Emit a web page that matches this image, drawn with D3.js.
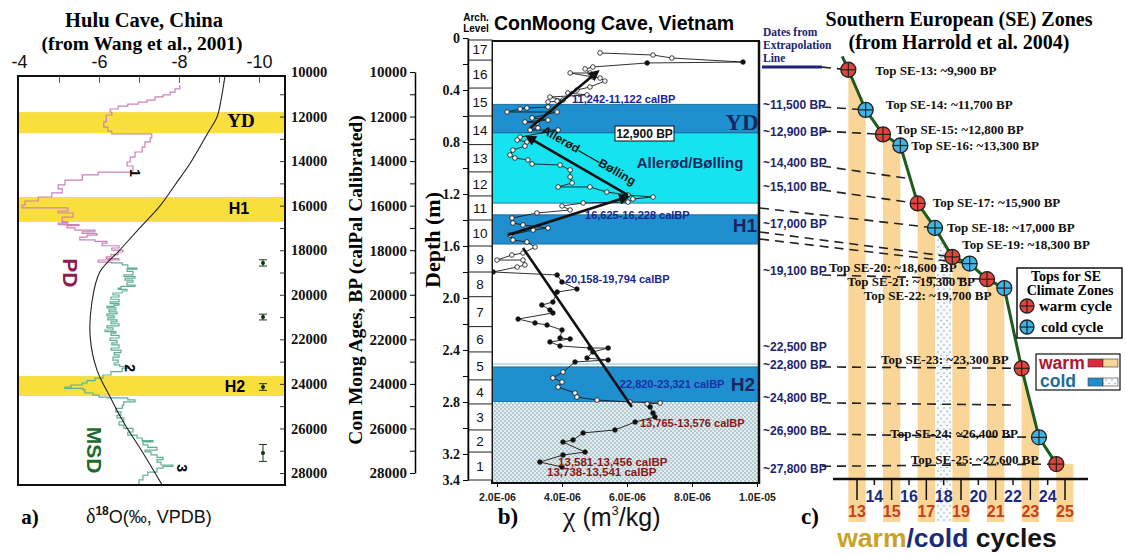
<!DOCTYPE html>
<html><head><meta charset="utf-8">
<script src="https://cdn.jsdelivr.net/npm/d3@7"></script>
<style>body{margin:0;background:#fff}svg{display:block}</style>
</head><body>
<svg id="c" width="1126" height="554"></svg>
<script>
// ===================== DATA =====================
// Panel a: Hulu Cave d18O (per mil VPDB) vs age (yr BP)
const huluTopLabels = [-4, -6, -8, -10];
const huluTopTicks = [-5, -6, -7, -8, -9, -10];
const ageLabelTicks = [10000, 12000, 14000, 16000, 18000, 20000, 22000, 24000, 26000, 28000];
const pdAge = [10580,10760,10900,11030,11120,11260,11350,11440,11530,11660,11800,11930,12240,12470,12650,12780,12960,13140,13370,13590,13820,14040,14220,14440,14490,14620,14850,15070,15250,15430,15610,15790,15970,16100,16240,16330,16510,16730,16780,16850,16900,17000,17100,17180,17250,17320,17410,17540,17600,17680,17800,17900,18000,18080,18200,18300,18380,18440,18530];
const pdVal = [-8.02,-7.9,-7.78,-7.6,-7.4,-7.2,-6.98,-6.72,-6.48,-6.28,-6.32,-6.18,-6.12,-6.22,-6.32,-7.32,-7.28,-7.15,-7.08,-6.9,-6.78,-6.7,-6.85,-6.82,-5.98,-5.58,-5.15,-4.98,-5.08,-4.82,-4.48,-4.15,-4.08,-5.22,-4.98,-5.35,-5.08,-5.22,-4.98,-5.5,-5.2,-5.4,-5.9,-5.58,-5.95,-5.7,-5.52,-5.9,-6.2,-6.08,-6.5,-6.32,-6.6,-6.48,-6.3,-6.18,-6.5,-5.98,-6.32];
const msdAge = [18530,18570,18660,18800,18850,18950,19110,19180,19250,19340,19430,19560,19620,19700,19760,19830,19920,20010,20100,20200,20320,20400,20460,20520,20590,20680,20770,20860,20950,21040,21130,21220,21300,21400,21490,21580,21650,21720,21820,21940,22050,22160,22250,22390,22480,22600,22700,22800,22930,23050,23150,23220,23290,23450,23600,23740,23850,23960,24050,24140,24200,24270,24410,24500,24590,24630,24720,24810,24950,25100,25260,25400,25530,25700,25850,26000,26160,26300,26430,26550,26600,26740,26850,26970,27050,27190,27300,27400,27510,27640,27700,27780,27960,28100,28310,28540];
const msdVal = [-6.32,-6.58,-6.72,-6.95,-6.7,-6.85,-6.62,-6.9,-6.65,-6.85,-6.7,-6.9,-6.55,-6.48,-6.7,-6.58,-6.35,-6.5,-6.3,-6.5,-6.28,-6.5,-6.38,-6.2,-6.42,-6.25,-6.45,-6.2,-6.38,-6.22,-6.45,-6.3,-6.5,-6.2,-6.35,-6.15,-6.42,-6.3,-6.5,-6.28,-6.45,-6.32,-6.5,-6.3,-6.55,-6.38,-6.5,-6.35,-6.48,-6.38,-6.52,-6.75,-6.58,-6.3,-6.1,-5.9,-5.7,-5.58,-5.3,-5.15,-5.6,-5.65,-5.85,-6.0,-6.22,-6.72,-6.9,-6.62,-6.58,-6.42,-6.55,-6.45,-6.62,-6.5,-6.62,-6.85,-6.72,-6.95,-7.08,-7.35,-7.1,-7.22,-7.45,-7.15,-7.3,-7.45,-7.6,-7.45,-7.55,-7.85,-7.6,-7.45,-7.22,-7.1,-7.0,-7.22];
const insolAge = [10180,11260,12020,12740,14040,15070,16020,17000,17990,18980,20370,21900,23380,24590,25620,27100,28540];
const insolVal = [-9.15,-9.05,-8.95,-8.72,-8.3,-7.9,-7.52,-7.02,-6.52,-6.02,-5.82,-5.78,-5.95,-6.28,-6.58,-7.1,-7.58];
const huluBandName = ["YD", "H1", "H2"];
const huluBandTop = [11800, 15610, 23650];
const huluBandBottom = [12750, 16730, 24540];
const errAge = [18570, 21000, 24140, 27100];
const errHalf = [140, 130, 150, 380];
const errVal = -10.1;

// Panel b: ConMoong Cave magnetic susceptibility (x1e-6 m3/kg) vs depth (m)
const archLevel = [17,16,15,14,13,12,11,10,9,8,7,6,5,4,3,2,1];
const archBounds = [0,0.17,0.385,0.6,0.82,1.03,1.215,1.4,1.6,1.8,1.99,2.22,2.415,2.63,2.815,3.015,3.185,3.4];
const depthTicks = [0,0.4,0.8,1.2,1.6,2.0,2.4,2.8,3.2,3.4];
const chiTicks = [2,4,6,8,10];
const chiTickLabels = ["2.0E-06","4.0E-06","6.0E-06","8.0E-06","1.0E-05"];
const chiDepth = [0.115,0.131,0.154,0.185,0.192,0.223,0.238,0.269,0.269,0.300,0.308,0.331,0.377,0.400,0.423,0.438,0.454,0.477,0.485,0.492,0.531,0.538,0.546,0.569,0.569,0.615,0.631,0.646,0.654,0.692,0.708,0.708,0.762,0.785,0.800,0.831,0.862,0.900,0.923,0.938,0.969,0.977,1.015,1.069,1.115,1.146,1.146,1.185,1.208,1.223,1.238,1.262,1.269,1.292,1.323,1.346,1.385,1.423,1.438,1.462,1.477,1.515,1.554,1.569,1.608,1.654,1.669,1.708,1.708,1.746,1.762,1.800,1.823,1.877,1.931,1.954,2.031,2.054,2.092,2.115,2.162,2.192,2.208,2.246,2.308,2.315,2.338,2.369,2.385,2.385,2.415,2.462,2.477,2.492,2.569,2.615,2.646,2.685,2.731,2.762,2.785,2.800,2.808,2.815,2.838,2.885,2.915,2.954,3.015,3.038,3.092,3.108,3.185,3.208,3.262,3.300];
const chiVal = [5.17,6.80,7.38,9.57,6.62,4.95,4.71,4.86,4.25,4.95,5.17,5.32,4.86,4.46,4.18,4.77,3.63,4.03,3.85,3.57,3.57,2.92,2.71,2.31,3.85,3.08,3.57,2.86,3.23,3.26,3.02,3.88,2.71,2.62,2.92,2.86,2.49,2.40,2.55,2.95,3.08,3.94,4.25,4.25,4.31,3.88,4.86,5.38,6.03,6.80,6.18,6.03,4.65,4.00,4.25,3.23,2.46,2.49,2.80,3.57,3.11,2.40,2.49,2.92,3.17,2.80,2.46,2.00,2.80,2.86,2.62,1.88,3.85,4.00,4.46,3.85,3.72,3.38,3.63,3.72,2.65,3.17,3.54,4.00,3.94,4.25,3.63,3.94,4.86,5.42,4.95,4.77,5.42,4.40,4.03,3.72,4.00,3.88,4.40,4.46,5.08,6.09,7.02,6.62,6.71,6.80,6.86,6.25,5.63,4.65,4.34,4.03,4.71,4.03,3.32,4.00];
const bBandName = ["YD", "Allerød/Bølling", "H1", "H2", "stipple"];
const bBandTop = [0.51, 0.73, 1.36, 2.53, 2.80];
const bBandBottom = [0.73, 1.27, 1.585, 2.80, 3.42];
// arrows: [chi, depth] of tail and head
const arrowTail = [[3.02,0.692],[6.03,1.208],[2.34,1.515],[2.80,1.615]];
const arrowHead = [[5.08,0.262],[2.95,0.762],[6.00,1.223],[6.15,2.838]];
const bDateText = ["11,242-11,122 calBP","16,625-16,228 calBP","20,158-19,794 calBP","22,820-23,321 calBP","13,765-13,576 calBP","13,581-13,456 calBP","13,738-13,541 calBP"];

// Panel c: Southern European zones
const seZone = [13,14,15,16,17,18,19,20,21,22,23,24,25];
const seTopAge = [9900,11700,12800,13300,15900,17000,18300,18600,19300,19700,23300,26400,27600];
const cycleNums = [13,14,15,16,17,18,19,20,21,22,23,24,25];
const extrapDates = ["~11,500 BP","~12,900 BP","~14,400 BP","~15,100 BP","~17,000 BP","~19,100 BP","~22,500 BP","~22,800 BP","~24,800 BP","~26,900 BP","~27,800 BP"];

// ===================== LAYOUT =====================
const SERIF = "'Liberation Serif','Times New Roman',serif";
const SANS = "'Liberation Sans',Arial,sans-serif";
const svg = d3.select("#c");
const defs = svg.append("defs");
const ageY = d3.scaleLinear().domain([10000, 28000]).range([72, 473]);

const p1 = defs.append("pattern").attr("id","stipB").attr("width",4).attr("height",4).attr("patternUnits","userSpaceOnUse");
p1.append("rect").attr("width",4).attr("height",4).attr("fill","#e3ecee");
p1.append("circle").attr("cx",1).attr("cy",1).attr("r",0.65).attr("fill","#5d8a9c");
p1.append("circle").attr("cx",3).attr("cy",3).attr("r",0.65).attr("fill","#5d8a9c");
const p2 = defs.append("pattern").attr("id","stipC").attr("width",6).attr("height",7).attr("patternUnits","userSpaceOnUse");
p2.append("rect").attr("width",6).attr("height",7).attr("fill","#f7fafc");
p2.append("circle").attr("cx",2).attr("cy",2).attr("r",0.8).attr("fill","#8fa6b8");
p2.append("circle").attr("cx",5).attr("cy",5.5).attr("r",0.8).attr("fill","#8fa6b8");
defs.append("marker").attr("id","arr").attr("viewBox","0 0 10 10").attr("refX",7).attr("refY",5)
  .attr("markerWidth",4.6).attr("markerHeight",4.2).attr("orient","auto")
  .append("path").attr("d","M0,0L10,5L0,10z").attr("fill","#111");

// ===================== PANEL A =====================
const aX = d3.scaleLinear().domain([-4, -10]).range([19, 259]);
const boxA = {x0: 18, x1: 285, y0: 76, y1: 485};
const gA = svg.append("g");
defs.append("clipPath").attr("id","clipA").append("rect")
  .attr("x",boxA.x0).attr("y",boxA.y0).attr("width",boxA.x1-boxA.x0).attr("height",boxA.y1-boxA.y0);

gA.selectAll("rect.band").data(huluBandName).join("rect").attr("class","band")
  .attr("x", boxA.x0 + 1).attr("width", boxA.x1 - boxA.x0 - 2)
  .attr("y", (d,i) => ageY(huluBandTop[i])).attr("height", (d,i) => ageY(huluBandBottom[i]) - ageY(huluBandTop[i]))
  .attr("fill", "#f8df3c");

const gAc = gA.append("g").attr("clip-path","url(#clipA)");
const insol = insolAge.map((a,i)=>({a, v: insolVal[i]}));
gAc.append("path").datum(insol)
  .attr("d", d3.line().x(d=>aX(d.v)).y(d=>ageY(d.a)).curve(d3.curveCatmullRom))
  .attr("fill","none").attr("stroke","#222").attr("stroke-width",1.1);
const stepLine = d3.line().x(d=>aX(d.v)).y(d=>ageY(d.a)).curve(d3.curveStepBefore);
gAc.append("path").datum(pdAge.map((a,i)=>({a, v: pdVal[i]})))
  .attr("d", stepLine).attr("fill","none").attr("stroke","#c983b6").attr("stroke-width",1.2)
  .style("mix-blend-mode","multiply");
gAc.append("path").datum(msdAge.map((a,i)=>({a, v: msdVal[i]})))
  .attr("d", stepLine).attr("fill","none").attr("stroke","#5fae93").attr("stroke-width",1.2)
  .style("mix-blend-mode","multiply");

errAge.forEach((a,i)=>{
  const x = aX(errVal);
  const g = gA.append("g").attr("stroke","#1d3b1d").attr("stroke-width",1);
  g.append("line").attr("x1",x).attr("x2",x).attr("y1",ageY(a-errHalf[i])).attr("y2",ageY(a+errHalf[i]));
  g.append("line").attr("x1",x-4).attr("x2",x+4).attr("y1",ageY(a-errHalf[i])).attr("y2",ageY(a-errHalf[i]));
  g.append("line").attr("x1",x-4).attr("x2",x+4).attr("y1",ageY(a+errHalf[i])).attr("y2",ageY(a+errHalf[i]));
  gA.append("circle").attr("cx",x).attr("cy",ageY(a)).attr("r",2).attr("fill","#143014");
});

gA.append("rect").attr("x",boxA.x0).attr("y",boxA.y0).attr("width",boxA.x1-boxA.x0).attr("height",boxA.y1-boxA.y0)
  .attr("fill","none").attr("stroke","#111").attr("stroke-width",2);
gA.append("g").attr("transform",`translate(0,${boxA.y0})`)
  .call(d3.axisBottom(aX).tickValues(huluTopTicks).tickSize(7).tickFormat("").tickSizeOuter(0))
  .call(g=>{g.select(".domain").remove(); g.selectAll("line").attr("stroke","#555");});
gA.append("g").attr("transform",`translate(0,68)`)
  .call(d3.axisTop(aX).tickValues(huluTopLabels).tickSize(0).tickPadding(0).tickFormat(d=>String(d)))
  .call(g=>{g.select(".domain").remove(); g.selectAll("text").attr("font-family",SANS).attr("font-size",18).attr("fill","#111");});
gA.append("g").attr("transform",`translate(${boxA.x1},0)`)
  .call(d3.axisLeft(ageY).tickValues(d3.range(11000,28001,1000)).tickSize(5).tickFormat("").tickSizeOuter(0))
  .call(g=>{g.select(".domain").remove(); g.selectAll("line").attr("stroke","#333");});
gA.append("g").attr("transform",`translate(${boxA.x1},0)`)
  .call(d3.axisRight(ageY).tickValues(ageLabelTicks).tickSize(0).tickPadding(6).tickFormat(d3.format("d")))
  .call(g=>{g.select(".domain").remove(); g.selectAll("text").attr("font-family",SERIF).attr("font-weight","bold").attr("font-size",14.5).attr("fill","#111");});

gA.append("text").attr("x",aX(-9.55)).attr("y",ageY(12450)).attr("text-anchor","middle")
  .attr("font-family",SERIF).attr("font-weight","bold").attr("font-size",19).text("YD");
gA.append("text").attr("x",aX(-9.5)).attr("y",ageY(16390)).attr("text-anchor","middle")
  .attr("font-family",SANS).attr("font-weight","bold").attr("font-size",16).text("H1");
gA.append("text").attr("x",aX(-9.4)).attr("y",ageY(24350)).attr("text-anchor","middle")
  .attr("font-family",SANS).attr("font-weight","bold").attr("font-size",16).text("H2");
[["1",-6.9,14530],["2",-6.78,23290],["3",-8.08,27780]].forEach(([t,v,a])=>{
  gA.append("text").attr("transform",`translate(${aX(v)},${ageY(a)}) rotate(90)`).attr("text-anchor","middle")
    .attr("dominant-baseline","central").attr("font-family",SANS).attr("font-weight","bold").attr("font-size",14).text(t);
});
gA.append("text").attr("transform",`translate(${aX(-5.28)},${ageY(19020)}) rotate(90)`).attr("text-anchor","middle")
  .attr("dominant-baseline","central").attr("font-family",SANS).attr("font-weight","bold").attr("font-size",21)
  .attr("fill","#8e1a50").text("PD");
gA.append("text").attr("transform",`translate(${aX(-5.88)},${ageY(26970)}) rotate(90)`).attr("text-anchor","middle")
  .attr("dominant-baseline","central").attr("font-family",SANS).attr("font-weight","bold").attr("font-size",21)
  .attr("fill","#1e6b2a").text("MSD");
gA.append("text").attr("x",144).attr("y",27).attr("text-anchor","middle").attr("font-family",SERIF)
  .attr("font-weight","bold").attr("font-size",20.5).text("Hulu Cave, China");
gA.append("text").attr("x",142).attr("y",50).attr("text-anchor","middle").attr("font-family",SERIF)
  .attr("font-weight","bold").attr("font-size",19.5).text("(from Wang et al., 2001)");
gA.append("text").attr("x",30).attr("y",524).attr("text-anchor","middle").attr("font-family",SERIF)
  .attr("font-weight","bold").attr("font-size",21).text("a)");
const dl = gA.append("text").attr("x",86).attr("y",523).attr("font-family",SANS).attr("font-size",18).attr("fill","#111");
dl.append("tspan").attr("font-family",SERIF).attr("font-size",20).text("δ");
dl.append("tspan").attr("font-size",12).attr("font-weight","bold").attr("dy",-8).text("18");
dl.append("tspan").attr("dy",8).text("O(‰, VPDB)");

// ===================== PANEL B =====================
const depthY = d3.scaleLinear().domain([0, 3.4]).range([38, 480]);
const chiX = d3.scaleLinear().domain([2, 10]).range([497, 757]);
const boxB = {x0: 492, x1: 759, y0: 41, y1: 483};
const gB = svg.append("g");
defs.append("clipPath").attr("id","clipB").append("rect")
  .attr("x",boxB.x0).attr("y",boxB.y0).attr("width",boxB.x1-boxB.x0).attr("height",boxB.y1-boxB.y0);
const bandFill = ["#1f8fcf","#16e3f0","#1f8fcf","#1f8fcf","url(#stipB)"];
gB.selectAll("rect.bband").data(bBandName).join("rect").attr("class","bband")
  .attr("x",boxB.x0).attr("width",boxB.x1-boxB.x0)
  .attr("y",(d,i)=>depthY(bBandTop[i])).attr("height",(d,i)=>depthY(bBandBottom[i])-depthY(bBandTop[i]))
  .attr("fill",(d,i)=>bandFill[i]).attr("stroke",(d,i)=> i<4 ? "#155f8c" : "none").attr("stroke-width",0.8);
gB.append("line").attr("x1",boxB.x0).attr("x2",boxB.x1).attr("y1",depthY(2.508)).attr("y2",depthY(2.508))
  .attr("stroke","#7fc1de").attr("stroke-width",1);

const gBc = gB.append("g").attr("clip-path","url(#clipB)");
const chiPts = chiDepth.map((d,i)=>({d, c: chiVal[i]}));
gBc.append("path").datum(chiPts).attr("d", d3.line().x(p=>chiX(p.c)).y(p=>depthY(p.d)))
  .attr("fill","none").attr("stroke","#1a1a1a").attr("stroke-width",0.9);
gBc.selectAll("circle.pt").data(chiPts).join("circle").attr("class","pt")
  .attr("cx",p=>chiX(p.c)).attr("cy",p=>depthY(p.d)).attr("r",2.3)
  .attr("fill",p=> ((p.d>=1.8 && p.d<=2.5) || p.d>2.82 || (p.d>0.18&&p.d<0.2)) ? "#111" : "#fff")
  .attr("stroke","#111").attr("stroke-width",0.8);

arrowTail.forEach((t,i)=>{
  gB.append("line").attr("x1",chiX(t[0])).attr("y1",depthY(t[1])).attr("x2",chiX(arrowHead[i][0])).attr("y2",depthY(arrowHead[i][1]))
    .attr("stroke","#111").attr("stroke-width",2.6).attr("marker-end", i<3 ? "url(#arr)" : null);
});
{
  const x1=chiX(arrowTail[1][0]), y1=depthY(arrowTail[1][1]), x2=chiX(arrowHead[1][0]), y2=depthY(arrowHead[1][1]);
  const ang = Math.atan2(y1-y2, x1-x2)*180/Math.PI;
  const mx=(x1+x2)/2+9, my=(y1+y2)/2-7;
  gB.append("text").attr("transform",`translate(${mx},${my}) rotate(${ang})`).attr("text-anchor","middle")
    .attr("font-family",SANS).attr("font-weight","bold").attr("font-size",12).attr("fill","#111").text("Allerød——Bølling");
}

gB.append("text").attr("x",742).attr("y",130).attr("text-anchor","middle").attr("font-family",SERIF)
  .attr("font-weight","bold").attr("font-size",23).attr("fill","#1b2560").text("YD");
gB.append("text").attr("x",745).attr("y",232).attr("text-anchor","middle").attr("font-family",SANS)
  .attr("font-weight","bold").attr("font-size",19).attr("fill","#1b2560").text("H1");
gB.append("text").attr("x",743).attr("y",391).attr("text-anchor","middle").attr("font-family",SANS)
  .attr("font-weight","bold").attr("font-size",19).attr("fill","#1b2560").text("H2");
gB.append("text").attr("x",690).attr("y",168).attr("text-anchor","middle").attr("font-family",SANS)
  .attr("font-weight","bold").attr("font-size",15).attr("fill","#1b2560").text("Allerød/Bølling");
gB.append("rect").attr("x",615).attr("y",126).attr("width",59).attr("height",15).attr("fill","#fff").attr("stroke","#111").attr("stroke-width",1);
gB.append("text").attr("x",644.5).attr("y",138).attr("text-anchor","middle").attr("font-family",SANS)
  .attr("font-weight","bold").attr("font-size",12).attr("fill","#111").text("12,900 BP");
const bDatePos = [[4.31,0.5],[4.71,1.392],[4.09,1.885],[5.78,2.692],[6.4,2.992],[3.88,3.292],[3.54,3.369]];
const bDateCol = ["#1c2590","#1c2590","#1c2590","#1a2fa5","#8e1717","#8e1717","#8e1717"];
bDateText.forEach((t,i)=>{
  gB.append("text").attr("x",chiX(bDatePos[i][0])).attr("y",depthY(bDatePos[i][1])).attr("font-family",SANS)
    .attr("font-weight","bold").attr("font-size",i>4?11.5:11).attr("fill",bDateCol[i]).text(t);
});

gB.append("rect").attr("x",boxB.x0).attr("y",boxB.y0).attr("width",boxB.x1-boxB.x0).attr("height",boxB.y1-boxB.y0)
  .attr("fill","none").attr("stroke","#111").attr("stroke-width",2);
gB.append("g").attr("transform",`translate(0,${boxB.y1})`)
  .call(d3.axisBottom(chiX).tickValues(chiTicks).tickSize(4).tickPadding(7).tickFormat((d,i)=>chiTickLabels[i]))
  .call(g=>{g.select(".domain").remove(); g.selectAll("text").attr("font-family",SANS).attr("font-weight","bold").attr("font-size",10.5).attr("fill","#222");});
const gArch = gB.append("g");
gArch.append("rect").attr("x",468).attr("y",depthY(0)+2).attr("width",24).attr("height",depthY(3.4)-depthY(0)-2)
  .attr("fill","#fff").attr("stroke","#222").attr("stroke-width",1);
gArch.selectAll("line.ab").data(archBounds.slice(1,-1)).join("line").attr("class","ab")
  .attr("x1",468).attr("x2",492).attr("y1",d=>depthY(d)).attr("y2",d=>depthY(d)).attr("stroke","#222").attr("stroke-width",1);
gArch.selectAll("text.al").data(archLevel).join("text").attr("class","al")
  .attr("x",480).attr("y",(d,i)=>(depthY(archBounds[i])+depthY(archBounds[i+1]))/2+5)
  .attr("text-anchor","middle").attr("font-family",SANS).attr("font-size",13.5).attr("fill","#111").text(d=>d);
gB.append("text").attr("x",476).attr("y",21).attr("text-anchor","middle").attr("font-family",SANS).attr("font-weight","bold").attr("font-size",10).text("Arch.");
gB.append("text").attr("x",476).attr("y",32).attr("text-anchor","middle").attr("font-family",SANS).attr("font-weight","bold").attr("font-size",10).text("Level");
gB.append("g").attr("transform","translate(468,0)")
  .call(d3.axisLeft(depthY).tickValues(d3.range(0,3.41,0.2)).tickSize(5).tickSizeOuter(0).tickPadding(3)
    .tickFormat(d=> depthTicks.some(t=>Math.abs(t-d)<1e-6) ? (d===0?"0":d3.format(".1f")(d)) : ""))
  .call(g=>{g.select(".domain").attr("stroke-width",1.5); g.selectAll("text").attr("font-family",SERIF).attr("font-weight","bold").attr("font-size",14).attr("fill","#111");});
gB.append("g").attr("transform","translate(415,0)")
  .call(d3.axisLeft(ageY).tickValues(d3.range(10000,28001,1000)).tickSize(5).tickSizeOuter(0).tickPadding(3)
    .tickFormat(d=> d%2000===0 ? d3.format("d")(d) : ""))
  .call(g=>{g.select(".domain").attr("stroke-width",1.5); g.selectAll("text").attr("font-family",SERIF).attr("font-weight","bold").attr("font-size",15).attr("fill","#111");});
gB.append("text").attr("transform","translate(362,280) rotate(-90)").attr("text-anchor","middle").attr("font-family",SERIF)
  .attr("font-weight","bold").attr("font-size",19.5).text("Con Mong Ages, BP (calPal Calibrated)");
gB.append("text").attr("transform","translate(440,240) rotate(-90)").attr("text-anchor","middle").attr("font-family",SERIF)
  .attr("font-weight","bold").attr("font-size",22).text("Depth (m)");
gB.append("text").attr("x",614).attr("y",30).attr("text-anchor","middle").attr("font-family",SANS)
  .attr("font-weight","bold").attr("font-size",19.5).text("ConMoong Cave, Vietnam");
gB.append("text").attr("x",508).attr("y",524).attr("text-anchor","middle").attr("font-family",SERIF)
  .attr("font-weight","bold").attr("font-size",23).text("b)");
const cl = gB.append("text").attr("x",563).attr("y",526).attr("font-family",SANS).attr("font-size",25).attr("fill","#111");
cl.append("tspan").attr("font-family",SERIF).attr("font-size",28).text("χ");
cl.append("tspan").text(" (m");
cl.append("tspan").attr("font-size",13).attr("dy",-11).text("3");
cl.append("tspan").attr("dy",11).text("/kg)");

// ===================== PANEL C =====================
const cX = d3.scaleLinear().domain([13, 25]).range([857, 1065]);
const gC = svg.append("g");
const barBottom = 522;
const lineStart = [12.15, 9300];
const circlePts = seZone.map((z,i)=>({z, c: z-0.5, a: seTopAge[i], warm: z%2===1}));
const linePts = [lineStart, ...circlePts.map(p=>[p.c, p.a])];
const underPoly = [...linePts.map(p=>[cX(p[0]), ageY(p[1])]),
  [cX(25.5), ageY(seTopAge[seTopAge.length-1])], [cX(25.5), barBottom], [cX(12), barBottom]];
defs.append("clipPath").attr("id","under").append("path").attr("d","M"+underPoly.map(p=>p.join(",")).join("L")+"Z");
const gBars = gC.append("g").attr("clip-path","url(#under)");
gBars.selectAll("rect.warm").data(cycleNums.filter(n=>n%2===1)).join("rect").attr("class","warm")
  .attr("x",n=>cX(n-0.5)).attr("width",n=>cX(n+0.5)-cX(n-0.5)).attr("y",40).attr("height",barBottom-40)
  .attr("fill","#f9d698");
gBars.append("rect").attr("x",cX(17.55)).attr("width",cX(18.45)-cX(17.55)).attr("y",40).attr("height",barBottom-40)
  .attr("fill","url(#stipC)");

const extrapLabelAge = [11480,12650,14040,15120,16820,18930,22300,23150,24630,26070,27820];
gC.selectAll("text.ex").data(extrapDates).join("text").attr("class","ex")
  .attr("x",763).attr("y",(d,i)=>ageY(extrapLabelAge[i])+4.5).attr("font-family",SANS).attr("font-weight","bold")
  .attr("font-size",12).attr("fill","#1d2470").text(d=>d);
["Dates from","Extrapolation","Line"].forEach((t,i)=>{
  gC.append("text").attr("x",763).attr("y",36+i*13).attr("font-family",SERIF).attr("font-weight","bold")
    .attr("font-size",11.5).attr("fill","#1d2470").text(t);
});
gC.append("line").attr("x1",762).attr("x2",822).attr("y1",ageY(9780)).attr("y2",ageY(9780)).attr("stroke","#1d2470").attr("stroke-width",3);

// dashed connectors: [startX, startAge, targetCycle, targetAge]
const connectors = [
  [822, 9780, 12.5, 9900], [822, 11570, 13.5, 11700], [822, 12650, 14.5, 12800], [822, 14220, 15.78, 14760],
  [822, 15300, 16.5, 15900], [760, 16105, 17.5, 17000], [760, 17182, 18.5, 18300], [760, 17500, 19.5, 18600],
  [822, 19110, 20.5, 19300], [822, 23240, 22.5, 23300], [822, 24850, 22.1, 24950], [822, 26250, 23.5, 26400],
  [822, 27700, 24.5, 27600]
];
gC.selectAll("line.cn").data(connectors).join("line").attr("class","cn")
  .attr("x1",d=>d[0]).attr("y1",d=>ageY(d[1])).attr("x2",d=>cX(d[2])).attr("y2",d=>ageY(d[3]))
  .attr("stroke","#222").attr("stroke-width",1.6).attr("stroke-dasharray","9,6");

const seLabelDx = [27,20,13,11,15,12,10,-13,-12,-13,-13,-21,-18];
const seLabelDy = [5,-1,0,4,4,4,-8,8,7,12,-4,1,0];
circlePts.forEach((p,i)=>{
  const right = seLabelDx[i] > 0;
  gC.append("text").attr("x",cX(p.c)+seLabelDx[i]).attr("y",ageY(p.a)+seLabelDy[i])
    .attr("text-anchor", right ? "start" : "end").attr("font-family",SERIF).attr("font-weight","bold")
    .attr("font-size",13).attr("fill","#111").text(`Top SE-${p.z}: ~${d3.format(",")(p.a)} BP`);
});

gC.append("path").datum(linePts).attr("d", d3.line().x(p=>cX(p[0])).y(p=>ageY(p[1])))
  .attr("fill","none").attr("stroke","#1d5c1d").attr("stroke-width",3);
function crossCircle(g, x, y, warm, r=7.5){
  g.append("circle").attr("cx",x).attr("cy",y).attr("r",r).attr("fill",warm?"#e2453a":"#3fb5e6").attr("stroke","#222").attr("stroke-width",1.3);
  g.append("line").attr("x1",x-r).attr("x2",x+r).attr("y1",y).attr("y2",y).attr("stroke","#222").attr("stroke-width",1.2);
  g.append("line").attr("x1",x).attr("x2",x).attr("y1",y-r).attr("y2",y+r).attr("stroke","#222").attr("stroke-width",1.2);
}
circlePts.forEach(p=>crossCircle(gC, cX(p.c), ageY(p.a), p.warm));

gC.append("line").attr("x1",833).attr("x2",1088).attr("y1",479).attr("y2",479).attr("stroke","#111").attr("stroke-width",2.5);
gC.selectAll("line.tk").data(cycleNums).join("line").attr("class","tk")
  .attr("x1",n=>cX(n)).attr("x2",n=>cX(n)).attr("y1",479).attr("y2",n=>n%2===1?500:485)
  .attr("stroke","#111").attr("stroke-width",1.5);
gC.selectAll("text.cy").data(cycleNums).join("text").attr("class","cy")
  .attr("x",n=>cX(n)).attr("y",n=>n%2===1?517:502).attr("text-anchor","middle").attr("font-family",SANS)
  .attr("font-weight","bold").attr("font-size",16).attr("fill",n=>n%2===1?"#c8401a":"#1c2a7a").text(n=>n);

const lg1 = gC.append("g");
lg1.append("rect").attr("x",1017).attr("y",268).attr("width",105).attr("height",70).attr("fill","#fff").attr("stroke","#111").attr("stroke-width",1.5);
lg1.append("text").attr("x",1066).attr("y",281).attr("text-anchor","middle").attr("font-family",SERIF).attr("font-weight","bold").attr("font-size",14).text("Tops for SE");
lg1.append("text").attr("x",1070).attr("y",295).attr("text-anchor","middle").attr("font-family",SERIF).attr("font-weight","bold").attr("font-size",14).text("Climate Zones");
crossCircle(lg1, 1027, 306, true, 7);
crossCircle(lg1, 1027, 327, false, 7);
lg1.append("text").attr("x",1039).attr("y",311).attr("font-family",SERIF).attr("font-weight","bold").attr("font-size",15).text("warm cycle");
lg1.append("text").attr("x",1041).attr("y",332).attr("font-family",SERIF).attr("font-weight","bold").attr("font-size",15).text("cold cycle");
const lg2 = gC.append("g");
lg2.append("rect").attr("x",1036).attr("y",354).attr("width",84).attr("height",36).attr("fill","#fff").attr("stroke","#111").attr("stroke-width",1.2);
lg2.append("text").attr("x",1039).attr("y",369).attr("font-family",SANS).attr("font-weight","bold").attr("font-size",17.5).attr("fill","#b3122e").text("warm");
lg2.append("text").attr("x",1040).attr("y",387).attr("font-family",SANS).attr("font-weight","bold").attr("font-size",17.5).attr("fill","#1a6e9c").text("cold");
lg2.append("rect").attr("x",1088).attr("y",359).attr("width",15).attr("height",8).attr("fill","#e0283c").attr("stroke","#333").attr("stroke-width",0.6);
lg2.append("rect").attr("x",1103).attr("y",359).attr("width",15).attr("height",8).attr("fill","#f9d698").attr("stroke","#333").attr("stroke-width",0.6);
lg2.append("rect").attr("x",1088).attr("y",378).attr("width",15).attr("height",8).attr("fill","#1f8fcf").attr("stroke","#333").attr("stroke-width",0.6);
lg2.append("rect").attr("x",1103).attr("y",378).attr("width",15).attr("height",8).attr("fill","url(#stipC)").attr("stroke","#333").attr("stroke-width",0.6);

gC.append("text").attr("x",959).attr("y",26).attr("text-anchor","middle").attr("font-family",SERIF).attr("font-weight","bold").attr("font-size",20).text("Southern European (SE) Zones");
gC.append("text").attr("x",959).attr("y",49).attr("text-anchor","middle").attr("font-family",SERIF).attr("font-weight","bold").attr("font-size",20).text("(from Harrold et al. 2004)");
gC.append("text").attr("x",810).attr("y",524).attr("text-anchor","middle").attr("font-family",SERIF).attr("font-weight","bold").attr("font-size",23).text("c)");
const wc = gC.append("text").attr("x",947).attr("y",547).attr("text-anchor","middle").attr("font-family",SANS).attr("font-weight","bold").attr("font-size",26.5);
wc.append("tspan").attr("fill","#c9a227").text("warm");
wc.append("tspan").attr("fill","#1c2a7a").text("/cold");
wc.append("tspan").attr("fill","#151515").text(" cycles");

svg.append("line").attr("x1",759).attr("x2",759).attr("y1",41).attr("y2",484).attr("stroke","#111").attr("stroke-width",2.5);
</script>
</body></html>
